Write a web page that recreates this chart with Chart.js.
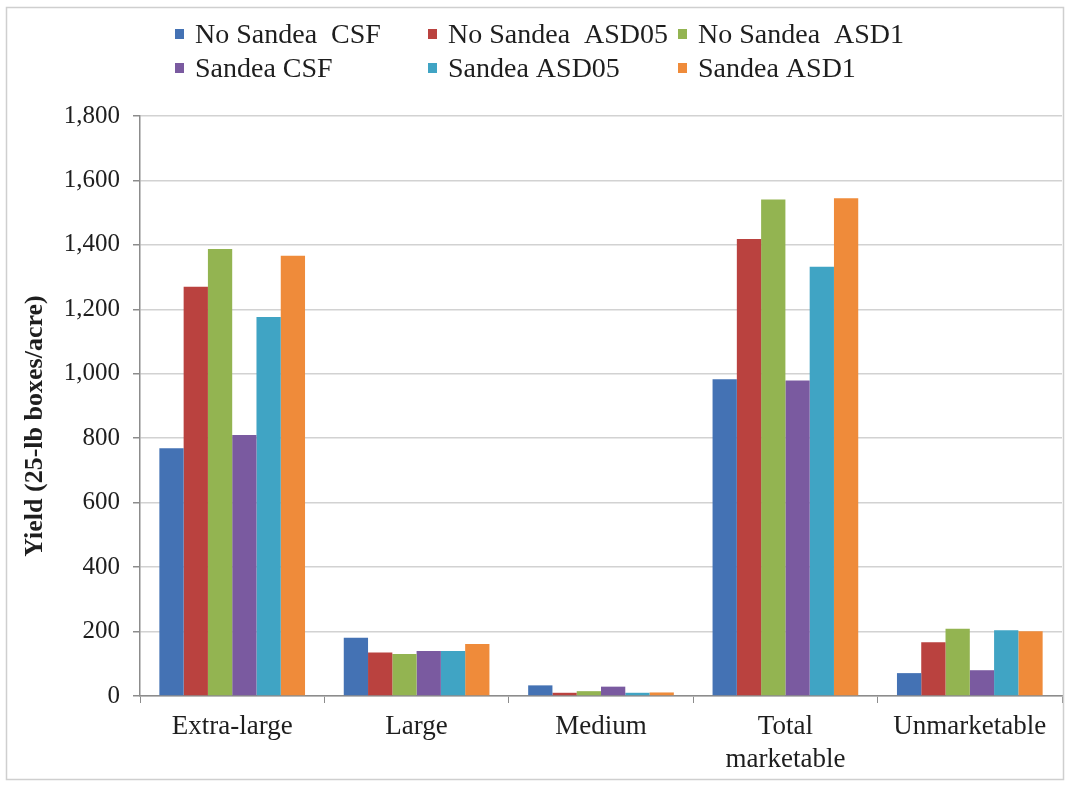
<!DOCTYPE html>
<html>
<head>
<meta charset="utf-8">
<script src="https://cdn.jsdelivr.net/npm/chart.js@4/dist/chart.umd.min.js"></script>
<style>
  html, body { margin: 0; padding: 0; background: #ffffff; }
  canvas { display: block; }
</style>
</head>
<body>
<canvas id="chart" width="1069" height="785"></canvas>
<script>
// Fruit size categories on the x axis
const categories = ["Extra-large", "Large", "Medium", ["Total", "marketable"], "Unmarketable"];

// Yield per treatment (25-lb boxes/acre)
const noSandeaCSF   = [769, 181, 33, 983, 71];
const noSandeaASD05 = [1270, 135, 10, 1418, 167];
const noSandeaASD1  = [1387, 130, 15, 1541, 209];
const sandeaCSF     = [810, 140, 29, 979, 80];
const sandeaASD05   = [1176, 140, 10, 1332, 204];
const sandeaASD1    = [1366, 161, 11, 1545, 201];

const seriesLabels = ["No Sandea  CSF", "No Sandea  ASD05", "No Sandea  ASD1",
                      "Sandea CSF", "Sandea ASD05", "Sandea ASD1"];
const seriesColors = ["#4472B4", "#BA423F", "#93B451", "#7A5AA0", "#40A4C4", "#EF8B3A"];

// y axis ticks
const yMin = 0, yMax = 1800, yStep = 200;
const yTitle = "Yield (25-lb boxes/acre)";

const serif = "'Liberation Serif', 'Times New Roman', serif";
const textColor = "#1e1e1e";

const seriesValues = [noSandeaCSF, noSandeaASD05, noSandeaASD1, sandeaCSF, sandeaASD05, sandeaASD1];

// Frame, y-axis title and a three-column legend drawn on the canvas
const decorations = {
  id: "decorations",
  afterDraw(chart) {
    const ctx = chart.ctx;
    ctx.save();
    // outer frame
    ctx.strokeStyle = "#cfcfcf";
    ctx.lineWidth = 1.5;
    ctx.strokeRect(6.5, 7.5, 1057, 772);

    // y axis title
    ctx.fillStyle = textColor;
    ctx.font = "bold 26px " + serif;
    ctx.textAlign = "center";
    ctx.textBaseline = "middle";
    ctx.translate(35, 426);
    ctx.rotate(-Math.PI / 2);
    ctx.fillText(yTitle, 0, 0);
    ctx.restore();

    // legend: two rows of three items
    ctx.save();
    const colX = [175, 428, 678];
    const rowY = [34, 68];
    ctx.font = "28px " + serif;
    ctx.textAlign = "left";
    ctx.textBaseline = "middle";
    chart.data.datasets.forEach((ds, i) => {
      const x = colX[i % 3];
      const y = rowY[Math.floor(i / 3)];
      ctx.fillStyle = ds.backgroundColor;
      ctx.fillRect(x, y - 5, 9, 10);
      ctx.fillStyle = textColor;
      ctx.fillText(ds.label, x + 20, y + 2);
    });
    ctx.restore();
  }
};

new Chart(document.getElementById("chart"), {
  type: "bar",
  data: {
    labels: categories,
    datasets: seriesLabels.map((label, i) => ({
      label: label,
      data: seriesValues[i],
      backgroundColor: seriesColors[i],
      borderWidth: 0,
      barPercentage: 1.0,
      categoryPercentage: 0.79
    }))
  },
  options: {
    responsive: false,
    devicePixelRatio: 1,
    animation: false,
    layout: { padding: { top: 116, right: 7, bottom: 0, left: 0 } },
    plugins: {
      legend: { display: false },
      tooltip: { enabled: false }
    },
    scales: {
      x: {
        grid: {
          display: true,
          drawOnChartArea: false,
          drawTicks: true,
          tickLength: 7,
          color: "#8c8c8c",
          offset: true
        },
        border: { display: true, color: "#8c8c8c", width: 1.5 },
        ticks: {
          font: { family: serif, size: 27 },
          color: textColor,
          padding: 8,
          maxRotation: 0,
          autoSkip: false
        },
        afterFit(scale) { scale.height = 89; }
      },
      y: {
        min: yMin,
        max: yMax,
        grid: {
          color: "#d2d2d2",
          lineWidth: 1.5,
          tickLength: 7,
          tickColor: "#8c8c8c"
        },
        border: { display: true, color: "#8c8c8c", width: 1.5 },
        ticks: {
          stepSize: yStep,
          font: { family: serif, size: 25 },
          color: textColor,
          padding: 13,
          callback: (v) => Number(v).toLocaleString("en-US")
        },
        afterFit(scale) { scale.width = 140; }
      }
    }
  },
  plugins: [decorations]
});
</script>
</body>
</html>
